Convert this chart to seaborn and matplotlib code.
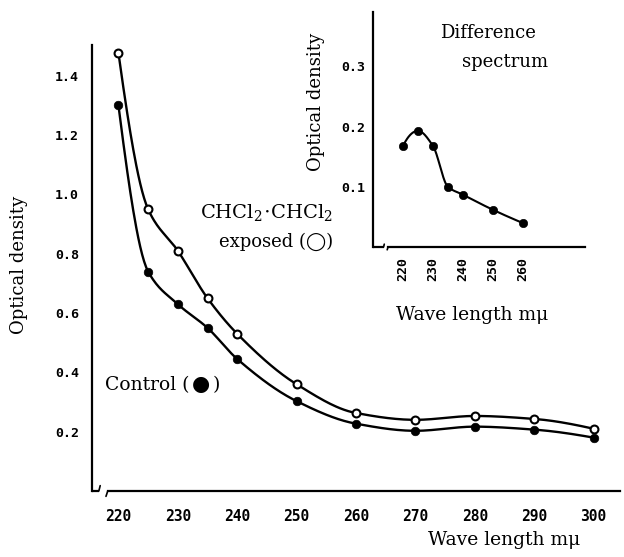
"""
Optical density spectra: control vs CHCl2.CHCl2 exposed, with difference inset
"""
import numpy as np
import pandas as pd
import matplotlib
matplotlib.use("Agg")
import matplotlib.pyplot as plt
import seaborn as sns

# data
wavelength = [220, 225, 230, 235, 240, 250, 260, 270, 280, 290, 300]
exposed = [1.477, 0.95, 0.81, 0.65, 0.53, 0.36, 0.263, 0.24, 0.253, 0.243, 0.21]
control = [1.30, 0.74, 0.63, 0.55, 0.445, 0.303, 0.227, 0.203, 0.217, 0.207, 0.18]

diff_wavelength = [220, 225, 230, 235, 240, 250, 260]
difference = [0.168, 0.193, 0.168, 0.10, 0.087, 0.062, 0.04]

main_xticks = [220, 230, 240, 250, 260, 270, 280, 290, 300]
main_yticks = [0.2, 0.4, 0.6, 0.8, 1.0, 1.2, 1.4]
inset_xticks = [220, 230, 240, 250, 260]
inset_yticks = [0.1, 0.2, 0.3]

SERIF = ["DejaVu Serif", "DejaVu Sans"]
XTICKFONT = dict(family="DejaVu Sans Mono", weight="bold", size=10.5)
YTICKFONT = dict(family="DejaVu Sans Mono", weight="bold", size=9.5)
LABEL_SIZE = 13


def smooth_curve(x, y, n=30):
    """Monotone cubic (PCHIP) line through the measured points - drawn line only"""
    x = np.asarray(x, float)
    y = np.asarray(y, float)
    h = np.diff(x)
    d = np.diff(y) / h
    m = np.zeros_like(y)
    for k in range(1, len(x) - 1):
        if d[k - 1] * d[k] <= 0:
            m[k] = 0.0
        else:
            w1 = 2 * h[k] + h[k - 1]
            w2 = h[k] + 2 * h[k - 1]
            m[k] = (w1 + w2) / (w1 / d[k - 1] + w2 / d[k])

    def end_slope(h0, h1, d0, d1):
        s = ((2 * h0 + h1) * d0 - h0 * d1) / (h0 + h1)
        if np.sign(s) != np.sign(d0):
            return 0.0
        if np.sign(d0) != np.sign(d1) and abs(s) > 3 * abs(d0):
            return 3 * d0
        return s

    m[0] = end_slope(h[0], h[1], d[0], d[1])
    m[-1] = end_slope(h[-1], h[-2], d[-1], d[-2])

    xs, ys = [], []
    for k in range(len(x) - 1):
        t = np.linspace(0, 1, n, endpoint=(k == len(x) - 2))
        h00 = 2 * t**3 - 3 * t**2 + 1
        h10 = t**3 - 2 * t**2 + t
        h01 = -2 * t**3 + 3 * t**2
        h11 = t**3 - t**2
        xs.append(x[k] + t * h[k])
        ys.append(h00 * y[k] + h10 * h[k] * m[k] + h01 * y[k + 1] + h11 * h[k] * m[k + 1])
    return np.concatenate(xs), np.concatenate(ys)


def style_axes(ax):
    for side in ["top", "right"]:
        ax.spines[side].set_visible(False)
    for side in ["left", "bottom"]:
        ax.spines[side].set_color("black")
        ax.spines[side].set_linewidth(1.6)
    ax.tick_params(which="both", direction="in", color="black", labelcolor="black", width=1.2)
    ax.tick_params(which="major", length=5)
    ax.tick_params(which="minor", length=4)
    ax.grid(False)


def axis_break(ax, x0, x1):
    """little squiggle where the x axis is broken"""
    tr = ax.get_xaxis_transform()
    ax.spines["bottom"].set_bounds(x1, ax.get_xlim()[1])
    ax.plot([ax.get_xlim()[0], x0], [0, 0], color="black", lw=1.6,
            transform=tr, clip_on=False, solid_capstyle="butt")
    w = (x1 - x0)
    ax.plot([x0, x0 + 0.15 * w], [0, 0.012], color="black", lw=1.2,
            transform=tr, clip_on=False)
    ax.plot([x1 - 0.2 * w, x1], [-0.012, 0], color="black", lw=1.2,
            transform=tr, clip_on=False)


sns.set_theme(style="white")
plt.rcParams["font.family"] = SERIF
plt.rcParams["mathtext.fontset"] = "dejavuserif"
plt.rcParams["text.color"] = "black"
plt.rcParams["xtick.color"] = "black"
plt.rcParams["ytick.color"] = "black"

fig = plt.figure(figsize=(6.24, 5.57), dpi=100)

# ---------------- main panel ----------------
ax = fig.add_axes([0.147, 0.1185, 0.847, 0.8007])
df = pd.DataFrame({"wl": wavelength, "exposed": exposed, "control": control})

for col in ["exposed", "control"]:
    cx, cy = smooth_curve(df["wl"], df[col])
    ax.plot(cx, cy, color="black", lw=1.7, zorder=2)

sns.scatterplot(data=df, x="wl", y="control", ax=ax, color="black",
                edgecolor="black", s=38, zorder=3, legend=False)
sns.scatterplot(data=df, x="wl", y="exposed", ax=ax, color="white",
                edgecolor="black", linewidth=1.5, s=32, zorder=3, legend=False)

ax.set_xlim(215.5, 304.5)
ax.set_ylim(0.0, 1.504)
style_axes(ax)
ax.set_xticks(main_xticks)
ax.set_xticks(np.arange(220, 305, 5), minor=True)
ax.set_yticks(main_yticks)
ax.set_yticks(np.arange(0.1, 1.45, 0.1), minor=True)
ax.set_xticklabels([str(v) for v in main_xticks], fontdict=XTICKFONT)
ax.set_yticklabels([f"{v:.1f}" for v in main_yticks], fontdict=YTICKFONT)
ax.tick_params(axis="x", which="major", pad=13)
ax.tick_params(axis="y", which="major", pad=9)
axis_break(ax, 216.7, 218.2)

ax.set_xlabel("")
ax.set_ylabel("")
fig.text(0.030, 0.524, "Optical density", rotation=90, ha="center", va="center",
         fontsize=LABEL_SIZE, family=SERIF)
fig.text(0.808, 0.0305, "Wave length m\u03bc", ha="center", va="center",
         fontsize=13.5, family=SERIF)

fig.text(0.534, 0.619, r"CHCl$_2\!\cdot\!$CHCl$_2$", ha="right", va="center",
         fontsize=14, family=SERIF)
fig.text(0.534, 0.566, "exposed (\u25ef)", ha="right", va="center",
         fontsize=LABEL_SIZE, family=SERIF)

# "Control (●)" with a big filled dot, built from three pieces
fig.canvas.draw()
renderer = fig.canvas.get_renderer()
t1 = fig.text(0.168, 0.309, "Control (", ha="left", va="center",
              fontsize=13.5, family=SERIF)
bb = t1.get_window_extent(renderer).transformed(fig.transFigure.inverted())
t2 = fig.text(bb.x1 + 0.004, 0.311, "\u25cf", ha="left", va="center",
              fontsize=15, family=["DejaVu Sans"])
bb2 = t2.get_window_extent(renderer).transformed(fig.transFigure.inverted())
fig.text(bb2.x1 + 0.004, 0.309, ")", ha="left", va="center",
         fontsize=13.5, family=SERIF)

# ---------------- inset: difference spectrum ----------------
ins = fig.add_axes([0.598, 0.5566, 0.34, 0.4214])
ins.set_facecolor("white")
dx, dy = smooth_curve(diff_wavelength, difference)
ins.plot(dx, dy, color="black", lw=1.5, zorder=2)
sns.scatterplot(x=diff_wavelength, y=difference, ax=ins, color="black",
                edgecolor="black", s=36, zorder=3, legend=False)
ins.set_xlim(210, 281)
ins.set_ylim(0.0, 0.39)
style_axes(ins)
ins.set_xticks(inset_xticks)
ins.set_xticks(np.arange(215, 281, 5), minor=True)
ins.set_yticks(inset_yticks)
ins.set_yticks([0.05, 0.15, 0.25, 0.35], minor=True)
ins.set_xticklabels([str(v) for v in inset_xticks], fontdict=YTICKFONT, rotation=90)
ins.set_yticklabels([f"{v:.1f}" for v in inset_yticks], fontdict=YTICKFONT)
ins.tick_params(axis="x", which="major", pad=7)
ins.tick_params(axis="y", which="major", pad=6)
axis_break(ins, 213.5, 215.0)
ins.set_xlabel("")
ins.set_ylabel("")

fig.text(0.506, 0.817, "Optical density", rotation=90, ha="center", va="center",
         fontsize=LABEL_SIZE, family=SERIF)
fig.text(0.757, 0.434, "Wave length m\u03bc", ha="center", va="center",
         fontsize=13.5, family=SERIF)
fig.text(0.782, 0.941, "Difference", ha="center", va="center",
         fontsize=LABEL_SIZE, family=SERIF)
fig.text(0.809, 0.889, "spectrum", ha="center", va="center",
         fontsize=LABEL_SIZE, family=SERIF)

fig.savefig("out.png", dpi=100)
